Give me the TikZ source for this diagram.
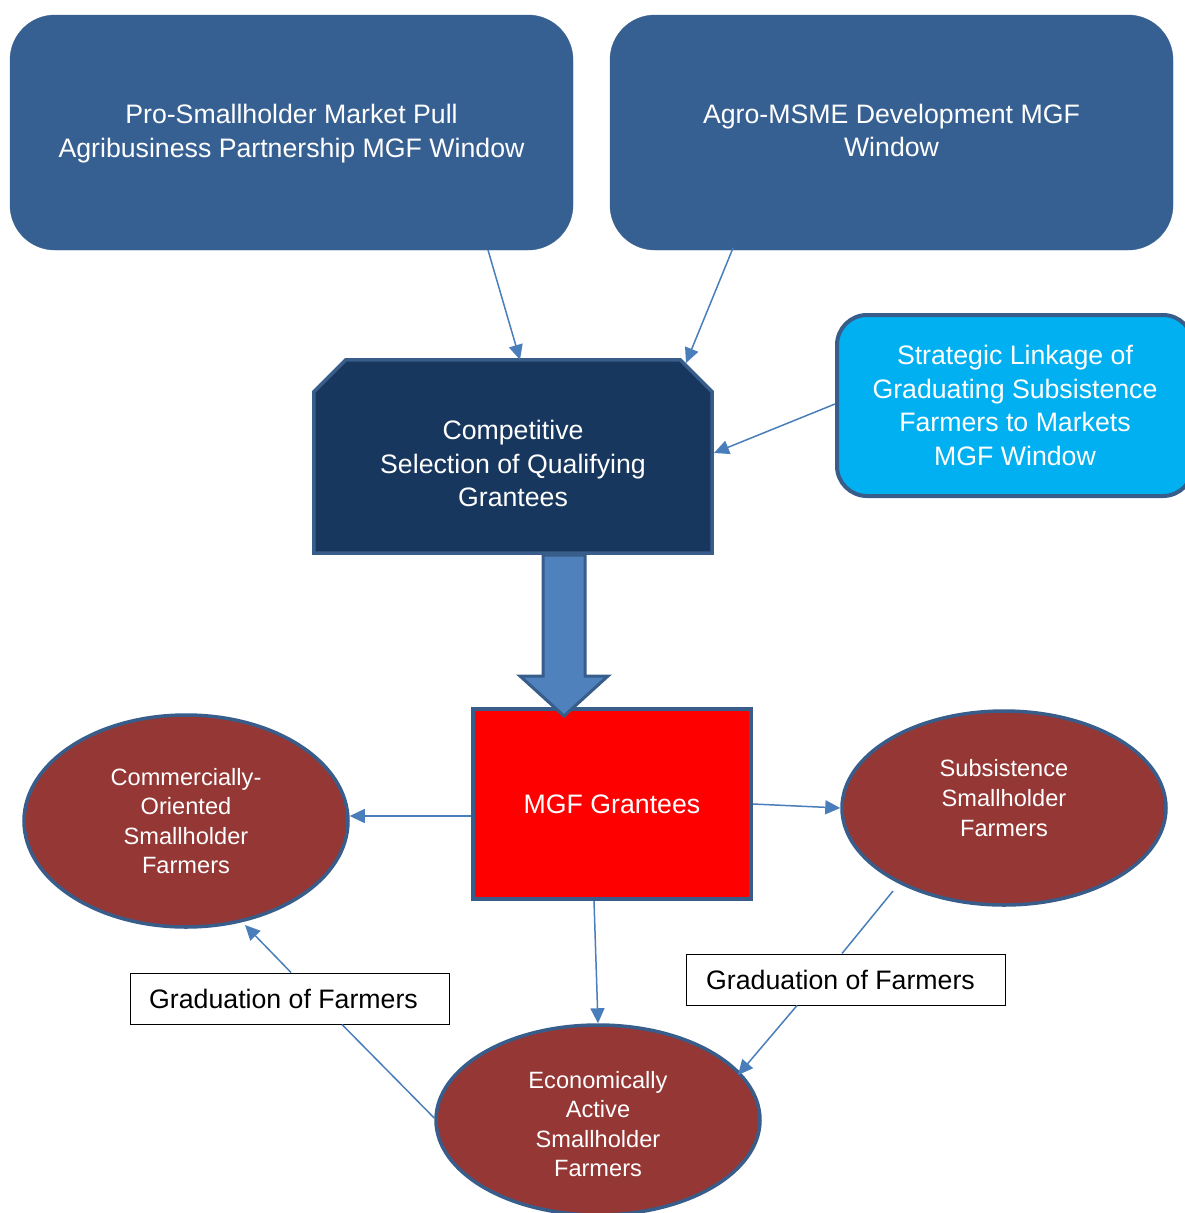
\documentclass[tikz,border=0pt]{standalone}
\usepackage{fontspec}
\setmainfont{Liberation Sans}
\usetikzlibrary{shapes.geometric,arrows.meta,calc}
\definecolor{winblue}{RGB}{55,96,146}
\definecolor{navy}{RGB}{23,55,94}
\definecolor{edgeblue}{RGB}{56,93,138}
\definecolor{skyblue}{RGB}{0,176,240}
\definecolor{brick}{RGB}{149,55,53}
\definecolor{linkblue}{RGB}{74,126,187}
\definecolor{arrowfill}{RGB}{79,129,189}
\tikzset{
  bigtext/.style={text=white, align=center, font=\fontsize{26.7}{33.5}\selectfont},
  smalltext/.style={text=white, align=center, font=\fontsize{23.6}{29.6}\selectfont},
  window/.style={draw=winblue, fill=winblue, rounded corners=45pt, minimum width=563pt,
    minimum height=235pt},
  selectframe/.style={inner sep=0pt, minimum width=398pt, minimum height=193pt},
  selectbox/.style={draw=edgeblue, line width=3.5pt, fill=navy, line join=miter},
  linkbox/.style={draw=edgeblue, line width=4pt, fill=skyblue, rounded corners=30pt,
    minimum width=356pt, minimum height=181pt, bigtext},
  grantbox/.style={draw=edgeblue, line width=4pt, fill=red, minimum width=278pt,
    minimum height=190pt, bigtext},
  farmers/.style={ellipse, draw=edgeblue, line width=3.5pt, fill=brick, inner sep=0pt,
    minimum width=324pt},
  gradbox/.style={draw=black, line width=1pt, fill=white, minimum width=319pt,
    minimum height=51pt},
  gradtext/.style={font=\fontsize{26.7}{28}\selectfont},
  link/.style={draw=linkblue, line width=1.5pt},
  linkarrow/.style={link, -{Triangle[length=15pt,width=14pt]}},
}
\begin{document}
\begin{tikzpicture}[x=1pt,y=-1pt]
\useasboundingbox (0,0) rectangle (1185,1213);

% funding windows
\node[window] (pull) at (291.5,132.5) {};
\node[bigtext] (pulltext) at ($(pull)+(0,1)$) {Pro-Smallholder Market Pull\\Agribusiness Partnership MGF Window};
\node[window] (msme) at (891.5,132.5) {};
\node[bigtext] (msmetext) at ($(msme)+(0,-2)$) {Agro-MSME Development MGF\\Window};
\node[linkbox] (link) at (1015,405.5) {Strategic Linkage of\\Graduating Subsistence\\Farmers to Markets\\MGF Window};

% selection box with cut top corners
\node[selectframe] (select) at (513,456.5) {};
\path[selectbox] ($(select.north west)+(0,32)$) -- ($(select.north west)+(32,0)$)
  -- ($(select.north east)+(-32,0)$) -- ($(select.north east)+(0,32)$)
  -- (select.south east) -- (select.south west) -- cycle;
\node[bigtext] (selecttext) at ($(select)+(0,7)$) {Competitive\\Selection of Qualifying\\Grantees};
\node[grantbox] (grant) at (612,804) {MGF Grantees};

% farmer groups
\node[farmers, minimum height=212pt] (comm) at (186,821) {};
\node[smalltext] (commtext) at (comm) {Commercially-\\Oriented\\Smallholder\\Farmers};
\node[farmers, minimum height=194pt] (subs) at (1004,808) {};
\node[smalltext] (substext) at ($(subs)+(0,-10)$) {Subsistence\\Smallholder\\Farmers};
\node[farmers, minimum height=190pt] (econ) at (598,1120) {};
\node[smalltext] (econtext) at ($(econ)+(0,4)$) {Economically\\Active\\Smallholder\\Farmers};

% graduation labels
\node[gradbox] (gradL) at (289.5,998.5) {};
\node[gradtext] (gradLtext) at ($(gradL)+(-6,0)$) {Graduation of Farmers};
\node[gradbox] (gradR) at (845.5,979.5) {};
\node[gradtext] (gradRtext) at ($(gradR)+(-5,0)$) {Graduation of Farmers};

% block arrow from selection to grantees
\coordinate (bt) at (564,555);
\draw[draw=edgeblue, line width=3pt, fill=arrowfill, line join=miter]
  ($(bt)+(-21,0)$) -- ($(bt)+(21,0)$) -- ($(bt)+(21,121)$) -- ($(bt)+(44,121)$)
  -- ($(bt)+(0,161)$) -- ($(bt)+(-44,121)$) -- ($(bt)+(-21,121)$) -- cycle;

% connectors
\draw[linkarrow] (488,250) -- (select.north -| 520,0);
\draw[linkarrow] (733,248) -- (686,363);
\draw[linkarrow] (link.west |- 0,404) -- (714,453);
\draw[linkarrow] (grant.west |- 0,816) -- (comm.east |- 0,816);
\draw[linkarrow] (grant.east |- 0,804) -- (subs.west |- 0,808);
\draw[linkarrow] (grant.south -| 594,0) -- (econ.north -| 598,0);
\draw[link] (econ.west |- 0,1118) -- (gradL.south -| 342,0);
\draw[linkarrow] (gradL.north -| 291,0) -- (245,925);
\draw[link] (893,891) -- (gradR.north -| 842,0);
\draw[linkarrow] (gradR.south -| 797,0) -- (738,1075);
\end{tikzpicture}
\end{document}
